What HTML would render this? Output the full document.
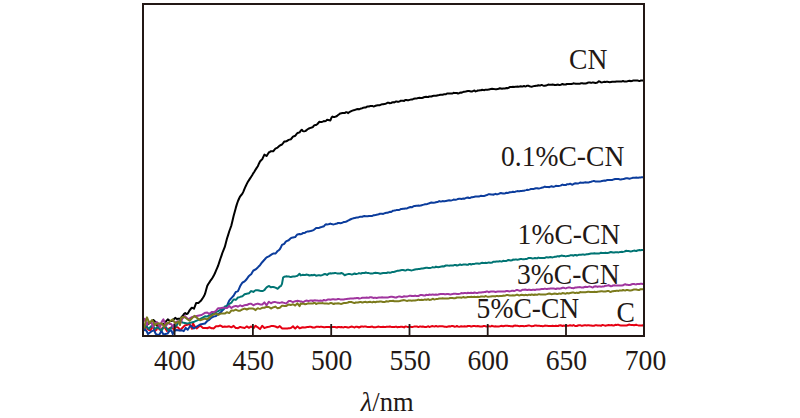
<!DOCTYPE html>
<html><head><meta charset="utf-8"><style>
html,body{margin:0;padding:0;background:#fff;}
svg{display:block;}
text{font-family:"Liberation Serif",serif;fill:#231815;}
</style></head><body>
<svg width="800" height="418" viewBox="0 0 800 418">
<rect width="800" height="418" fill="#fff"/>
<g fill="none" stroke-width="2" stroke-linejoin="round" stroke-linecap="round">
<path d="M143.0,327.0 L145.5,326.5 L148.0,324.0 L150.7,322.3 L153.4,320.0 L155.4,322.0 L158.0,327.0 L160.0,324.2 L162.0,324.0 L163.8,324.4 L165.5,322.0 L167.8,319.4 L170.0,321.0 L171.8,321.1 L173.5,319.4 L175.2,317.9 L176.8,319.0 L178.4,318.8 L180.0,318.8 L183.0,315.3 L184.1,313.8 L185.2,313.1 L186.3,313.9 L187.4,313.8 L188.5,312.3 L189.6,310.3 L190.7,309.0 L191.8,307.7 L192.9,308.1 L194.0,308.7 L195.1,305.8 L196.2,302.9 L197.3,302.9 L198.4,303.0 L199.5,302.0 L200.6,301.1 L201.7,299.6 L202.8,298.0 L203.9,296.3 L205.0,293.9 L206.1,290.0 L207.2,286.0 L208.3,284.0 L209.4,282.4 L210.5,280.6 L211.6,279.1 L212.7,277.5 L213.8,275.6 L214.9,273.3 L216.0,270.6 L217.1,268.1 L218.2,265.5 L219.3,262.1 L220.4,258.8 L221.5,255.6 L222.6,252.3 L223.7,249.6 L224.8,246.9 L225.9,242.7 L227.0,238.5 L228.1,235.1 L229.2,231.5 L230.3,228.5 L231.4,225.3 L232.5,220.7 L233.6,216.1 L234.7,212.1 L235.8,207.9 L236.9,204.1 L238.0,201.0 L239.1,198.5 L240.2,196.3 L241.3,195.0 L242.4,193.7 L243.5,191.3 L244.6,188.7 L245.7,186.2 L246.8,183.9 L247.9,181.8 L249.0,180.1 L250.1,178.4 L251.2,176.7 L252.3,175.0 L253.4,173.1 L254.5,171.5 L255.6,169.6 L256.7,167.9 L257.8,166.3 L258.9,163.7 L260.0,161.5 L261.1,160.3 L262.2,159.3 L263.3,156.9 L264.4,154.6 L265.5,155.3 L266.6,156.0 L267.7,154.2 L268.8,152.5 L269.9,151.9 L271.0,151.2 L272.1,151.2 L273.2,151.2 L274.3,150.0 L275.4,148.6 L276.5,148.1 L277.6,147.6 L278.7,146.6 L279.8,145.6 L280.9,145.0 L282.0,144.5 L283.1,143.1 L284.2,141.6 L285.3,141.5 L286.4,141.3 L287.5,140.6 L288.6,139.9 L289.7,139.6 L290.8,139.3 L291.9,138.0 L293.0,136.7 L294.1,136.2 L295.2,135.8 L296.3,134.4 L297.4,133.0 L298.5,132.7 L299.6,132.4 L300.7,130.8 L301.8,129.7 L302.9,131.1 L304.0,131.4 L305.1,131.1 L306.2,130.5 L307.3,129.5 L308.4,128.7 L309.5,128.3 L310.6,127.9 L311.7,127.5 L312.8,127.1 L313.9,125.7 L315.0,125.1 L316.1,125.0 L317.2,124.2 L318.3,123.0 L319.4,121.8 L320.5,122.1 L321.6,122.0 L322.7,121.6 L323.8,121.1 L324.9,121.2 L326.0,120.9 L327.1,119.8 L328.2,120.0 L329.3,120.2 L330.4,120.4 L331.5,117.6 L332.6,116.6 L333.7,117.1 L334.8,116.9 L335.9,116.5 L337.0,116.0 L338.1,115.1 L339.2,114.2 L340.3,113.4 L341.4,113.2 L342.5,113.0 L343.6,113.0 L344.7,113.1 L345.8,112.3 L346.9,112.2 L348.0,113.1 L349.1,112.3 L350.2,111.7 L351.3,111.1 L352.4,110.6 L353.5,110.3 L354.6,110.0 L355.7,109.6 L356.8,109.2 L357.9,109.0 L359.0,109.4 L360.1,108.9 L361.2,108.4 L362.3,108.2 L363.4,107.7 L364.5,107.5 L365.6,107.6 L366.7,106.8 L367.8,106.5 L368.9,106.6 L370.0,106.1 L371.1,105.9 L372.2,105.9 L373.3,106.4 L374.4,106.2 L375.5,105.8 L376.6,105.5 L377.7,105.3 L378.8,105.2 L379.9,105.2 L381.0,104.6 L382.1,104.3 L383.2,104.3 L384.3,104.1 L385.4,103.8 L386.5,103.3 L387.6,102.7 L388.7,102.8 L389.8,103.2 L390.9,103.1 L392.0,102.5 L393.1,102.1 L394.2,102.5 L395.3,101.8 L396.4,101.4 L397.5,101.8 L398.6,101.7 L399.7,101.4 L400.8,100.7 L401.9,100.7 L403.0,100.8 L404.1,100.9 L405.2,100.1 L406.3,100.0 L407.4,100.3 L408.5,100.2 L409.6,99.9 L410.7,99.6 L411.8,99.6 L412.9,99.2 L414.0,98.7 L415.1,98.5 L416.2,98.4 L417.3,98.2 L418.4,97.9 L419.5,97.8 L420.6,97.9 L421.7,98.1 L422.8,97.7 L423.9,97.3 L425.0,96.9 L426.1,96.7 L427.2,96.9 L428.3,97.0 L429.4,96.4 L430.5,96.5 L431.6,96.5 L432.7,95.9 L433.8,95.7 L434.9,95.7 L436.0,95.8 L437.1,95.5 L438.2,95.2 L439.3,95.0 L440.4,94.7 L441.5,94.7 L442.6,94.8 L443.7,94.3 L444.8,94.3 L445.9,94.3 L447.0,93.5 L448.1,93.5 L449.2,93.5 L450.3,93.5 L451.4,93.6 L452.5,93.5 L453.6,92.8 L454.7,93.1 L455.8,93.1 L456.9,93.0 L458.0,93.5 L459.1,93.2 L460.2,92.5 L461.3,92.7 L462.4,92.3 L463.5,91.8 L464.6,91.7 L465.7,91.5 L466.8,91.2 L467.9,91.0 L469.0,91.0 L470.1,91.2 L471.2,91.6 L472.3,91.4 L473.4,90.9 L474.5,90.4 L475.6,91.4 L476.7,91.1 L477.8,90.4 L478.9,90.4 L480.0,90.3 L481.1,90.2 L482.2,89.8 L483.3,90.1 L484.4,90.2 L485.5,89.7 L486.6,89.7 L487.7,89.7 L488.8,89.6 L489.9,89.2 L491.0,88.9 L492.1,88.7 L493.2,88.9 L494.3,89.1 L495.4,89.2 L496.5,89.2 L497.6,89.1 L498.7,88.8 L499.8,88.2 L500.9,88.5 L502.0,88.8 L503.1,88.6 L504.2,88.6 L505.3,88.4 L506.4,88.0 L507.5,88.2 L508.6,87.8 L509.7,87.1 L510.8,87.0 L511.9,86.9 L513.0,86.8 L514.1,86.9 L515.2,86.8 L516.3,86.7 L517.4,86.6 L518.5,86.7 L519.6,86.6 L520.7,86.2 L521.8,86.4 L522.9,86.4 L524.0,86.0 L525.1,86.4 L526.2,86.2 L527.3,85.7 L528.4,85.8 L529.5,86.2 L530.6,86.5 L531.7,86.7 L532.8,86.4 L533.9,86.1 L535.0,86.0 L536.1,85.8 L537.2,85.7 L538.3,85.3 L539.4,85.5 L540.5,85.4 L541.6,84.9 L542.7,85.4 L543.8,85.7 L544.9,85.7 L546.0,85.6 L547.1,85.1 L548.2,84.6 L549.3,84.8 L550.4,84.8 L551.5,84.7 L552.6,84.5 L553.7,84.7 L554.8,85.0 L555.9,85.0 L557.0,84.7 L558.1,84.6 L559.2,85.0 L560.3,84.9 L561.4,84.5 L562.5,84.0 L563.6,84.5 L564.7,84.6 L565.8,84.5 L566.9,84.0 L568.0,84.0 L569.1,84.1 L570.2,84.1 L571.3,84.0 L572.4,83.8 L573.5,83.3 L574.6,83.6 L575.7,83.8 L576.8,83.7 L577.9,83.8 L579.0,83.8 L580.1,83.7 L581.2,83.2 L582.3,83.2 L583.4,83.4 L584.5,83.5 L585.6,83.5 L586.7,83.3 L587.8,82.7 L588.9,82.4 L590.0,82.5 L591.1,82.9 L592.2,82.6 L593.3,82.5 L594.4,82.7 L595.5,82.9 L596.6,82.8 L597.7,82.3 L598.8,81.3 L599.9,81.6 L601.0,82.3 L602.1,82.4 L603.2,82.1 L604.3,81.8 L605.4,82.0 L606.5,81.8 L607.6,81.8 L608.7,82.1 L609.8,82.2 L610.9,82.1 L612.0,81.7 L613.1,81.7 L614.2,81.7 L615.3,81.8 L616.4,81.5 L617.5,81.4 L618.6,81.4 L619.7,81.4 L620.8,81.4 L621.9,81.4 L623.0,81.0 L624.1,81.4 L625.2,81.6 L626.3,81.4 L627.4,81.2 L628.5,80.9 L629.6,80.7 L630.7,81.2 L631.8,81.1 L632.9,80.6 L634.0,80.6 L635.1,80.6 L636.2,80.5 L637.3,80.4 L638.4,80.8 L639.5,81.1 L640.6,80.6 L641.7,80.5 L642.8,80.6 L643.9,80.9" stroke="#000000" />
<path d="M143.0,329.0 L144.5,328.9 L146.0,326.0 L147.5,328.9 L149.0,330.0 L150.5,330.3 L152.0,327.0 L153.5,328.0 L155.0,331.0 L156.5,329.8 L158.0,326.0 L159.5,329.6 L161.0,330.0 L162.5,327.9 L164.0,327.0 L165.5,328.6 L167.0,331.0 L168.5,328.8 L170.0,328.0 L172.0,326.8 L174.0,330.0 L175.5,327.3 L177.0,327.0 L178.5,327.9 L180.0,330.3 L184.8,325.5 L189.6,324.1 L192.0,328.8 L192.9,323.1 L194.4,326.0 L196.7,328.4 L200.1,325.5 L203.0,327.9 L205.0,327.9 L206.1,327.9 L207.2,328.2 L208.3,327.8 L209.4,327.2 L210.5,327.8 L211.6,328.2 L212.7,328.3 L213.8,328.4 L214.9,327.3 L216.0,326.2 L217.1,326.2 L218.2,326.3 L219.3,325.8 L220.4,325.5 L221.5,326.2 L222.6,326.9 L223.7,326.7 L224.8,326.5 L225.9,326.7 L227.0,326.8 L228.1,326.5 L229.2,326.3 L230.3,326.8 L231.4,327.3 L232.5,326.6 L233.6,325.9 L234.7,327.0 L235.8,328.0 L236.9,328.1 L238.0,328.2 L239.1,327.5 L240.2,326.9 L241.3,327.3 L242.4,327.6 L243.5,327.8 L244.6,328.0 L245.7,327.2 L246.8,326.4 L247.9,327.1 L249.0,327.8 L250.1,327.1 L251.2,326.4 L252.3,327.3 L253.4,328.2 L254.5,327.0 L255.6,325.8 L256.7,326.6 L257.8,327.3 L258.9,328.2 L260.0,329.1 L261.1,327.5 L262.2,325.8 L263.3,326.9 L264.4,328.0 L265.5,327.6 L266.6,327.2 L267.7,327.0 L268.8,326.8 L269.9,326.5 L271.0,326.1 L272.1,326.1 L273.2,326.0 L274.3,326.2 L275.4,326.5 L276.5,327.0 L277.6,327.6 L278.7,326.8 L279.8,326.1 L280.9,327.2 L282.0,328.4 L283.1,328.5 L284.2,328.5 L285.3,328.6 L286.4,328.6 L287.5,328.5 L288.6,328.3 L289.7,328.2 L290.8,328.1 L291.9,327.2 L293.0,326.3 L294.1,327.5 L295.2,328.6 L296.3,327.5 L297.4,326.4 L298.5,327.3 L299.6,328.3 L300.7,328.0 L301.8,327.4 L302.9,327.3 L304.0,327.4 L305.1,327.5 L306.2,327.3 L307.3,327.1 L308.4,327.0 L309.5,326.8 L310.6,326.8 L311.7,327.0 L312.8,327.6 L313.9,327.6 L315.0,327.4 L316.1,326.8 L317.2,326.7 L318.3,326.8 L319.4,326.9 L320.5,326.8 L321.6,326.8 L322.7,326.9 L323.8,327.2 L324.9,327.2 L326.0,327.1 L327.1,327.1 L328.2,326.9 L329.3,327.0 L330.4,327.4 L331.5,327.1 L332.6,327.0 L333.7,327.1 L334.8,327.1 L335.9,327.3 L337.0,327.5 L338.1,327.0 L339.2,327.1 L340.3,327.3 L341.4,327.0 L342.5,327.3 L343.6,327.4 L344.7,327.0 L345.8,327.1 L346.9,327.2 L348.0,327.5 L349.1,327.4 L350.2,327.0 L351.3,326.6 L352.4,326.7 L353.5,327.1 L354.6,327.5 L355.7,326.7 L356.8,326.7 L357.9,327.0 L359.0,327.5 L360.1,327.0 L361.2,326.5 L362.3,326.6 L363.4,326.7 L364.5,326.6 L365.6,326.5 L366.7,326.8 L367.8,327.0 L368.9,327.1 L370.0,326.9 L371.1,326.7 L372.2,326.6 L373.3,327.2 L374.4,327.3 L375.5,327.2 L376.6,327.0 L377.7,326.7 L378.8,326.6 L379.9,326.9 L381.0,327.0 L382.1,327.0 L383.2,326.8 L384.3,327.1 L385.4,327.1 L386.5,326.8 L387.6,326.8 L388.7,326.7 L389.8,326.5 L390.9,326.8 L392.0,327.0 L393.1,327.1 L394.2,327.1 L395.3,326.8 L396.4,326.7 L397.5,327.3 L398.6,327.1 L399.7,326.9 L400.8,326.7 L401.9,326.7 L403.0,327.0 L404.1,327.4 L405.2,326.6 L406.3,326.6 L407.4,326.9 L408.5,326.9 L409.6,326.8 L410.7,326.8 L411.8,327.1 L412.9,326.9 L414.0,326.6 L415.1,326.6 L416.2,326.5 L417.3,326.6 L418.4,327.1 L419.5,326.6 L420.6,326.6 L421.7,326.8 L422.8,326.6 L423.9,326.8 L425.0,327.1 L426.1,327.1 L427.2,326.6 L428.3,326.3 L429.4,327.0 L430.5,326.6 L431.6,326.2 L432.7,326.1 L433.8,326.4 L434.9,326.4 L436.0,326.0 L437.1,326.4 L438.2,326.4 L439.3,326.2 L440.4,326.3 L441.5,326.3 L442.6,326.3 L443.7,326.5 L444.8,326.7 L445.9,326.8 L447.0,326.9 L448.1,326.5 L449.2,326.3 L450.3,326.5 L451.4,326.1 L452.5,326.0 L453.6,326.3 L454.7,326.7 L455.8,326.6 L456.9,326.0 L458.0,326.6 L459.1,326.7 L460.2,326.5 L461.3,326.2 L462.4,326.4 L463.5,326.5 L464.6,326.2 L465.7,326.5 L466.8,326.5 L467.9,325.9 L469.0,325.9 L470.1,326.1 L471.2,326.6 L472.3,326.3 L473.4,326.1 L474.5,325.9 L475.6,326.2 L476.7,326.2 L477.8,326.1 L478.9,326.2 L480.0,326.4 L481.1,326.5 L482.2,326.6 L483.3,326.1 L484.4,325.9 L485.5,326.3 L486.6,326.6 L487.7,326.5 L488.8,326.1 L489.9,326.4 L491.0,326.2 L492.1,325.8 L493.2,326.3 L494.3,326.4 L495.4,326.3 L496.5,326.5 L497.6,326.5 L498.7,326.4 L499.8,326.2 L500.9,325.9 L502.0,325.8 L503.1,326.3 L504.2,326.0 L505.3,325.8 L506.4,325.8 L507.5,325.8 L508.6,326.0 L509.7,326.1 L510.8,326.2 L511.9,326.3 L513.0,326.4 L514.1,325.7 L515.2,325.6 L516.3,325.7 L517.4,325.8 L518.5,326.1 L519.6,326.2 L520.7,326.0 L521.8,326.0 L522.9,326.0 L524.0,326.2 L525.1,326.1 L526.2,325.9 L527.3,325.7 L528.4,325.5 L529.5,325.6 L530.6,325.9 L531.7,326.2 L532.8,326.1 L533.9,325.9 L535.0,325.4 L536.1,325.6 L537.2,325.8 L538.3,325.7 L539.4,325.8 L540.5,325.9 L541.6,325.9 L542.7,326.2 L543.8,326.0 L544.9,325.6 L546.0,325.7 L547.1,325.8 L548.2,325.9 L549.3,326.1 L550.4,326.1 L551.5,325.9 L552.6,325.7 L553.7,325.9 L554.8,326.0 L555.9,325.7 L557.0,326.0 L558.1,326.0 L559.2,325.4 L560.3,325.3 L561.4,325.5 L562.5,326.0 L563.6,325.6 L564.7,325.7 L565.8,326.0 L566.9,325.8 L568.0,325.7 L569.1,325.5 L570.2,325.2 L571.3,325.6 L572.4,325.7 L573.5,325.1 L574.6,325.7 L575.7,326.0 L576.8,326.0 L577.9,325.5 L579.0,325.2 L580.1,325.2 L581.2,325.7 L582.3,325.7 L583.4,325.4 L584.5,325.2 L585.6,325.3 L586.7,325.4 L587.8,325.2 L588.9,325.3 L590.0,325.4 L591.1,325.6 L592.2,325.8 L593.3,325.8 L594.4,325.7 L595.5,325.2 L596.6,325.2 L597.7,325.4 L598.8,325.4 L599.9,325.6 L601.0,325.8 L602.1,325.1 L603.2,325.1 L604.3,325.4 L605.4,325.7 L606.5,325.4 L607.6,325.2 L608.7,325.0 L609.8,325.2 L610.9,325.3 L612.0,325.1 L613.1,325.5 L614.2,325.4 L615.3,324.8 L616.4,324.9 L617.5,324.8 L618.6,324.8 L619.7,325.3 L620.8,325.4 L621.9,325.4 L623.0,325.6 L624.1,325.6 L625.2,325.6 L626.3,325.6 L627.4,325.2 L628.5,324.8 L629.6,324.6 L630.7,324.9 L631.8,325.0 L632.9,325.1 L634.0,325.3 L635.1,325.0 L636.2,324.7 L637.3,325.1 L638.4,325.4 L639.5,325.5 L640.6,325.5 L641.7,325.4 L642.8,325.3 L643.9,325.4" stroke="#e60012" />
<path d="M143.0,331.0 L145.3,329.4 L146.7,331.3 L148.0,334.0 L151.0,331.7 L154.0,330.0 L155.7,333.8 L157.4,334.8 L159.4,334.6 L161.4,330.8 L163.4,334.5 L165.5,334.0 L167.5,333.6 L169.5,330.8 L171.2,330.2 L172.8,334.0 L174.8,330.5 L176.8,330.0 L179.4,330.5 L181.9,330.3 L183.8,331.1 L185.7,327.9 L187.7,329.8 L190.5,325.5 L193.9,328.4 L200.1,324.5 L205.0,323.5 L206.1,322.3 L207.2,321.0 L208.3,320.3 L209.4,319.6 L210.5,318.5 L211.6,317.5 L212.7,317.0 L213.8,316.4 L214.9,316.3 L216.0,316.1 L217.1,315.1 L218.2,314.1 L219.3,313.4 L220.4,312.7 L221.5,311.5 L222.6,310.2 L223.7,309.2 L224.8,308.1 L225.9,307.0 L227.0,305.8 L228.1,303.1 L229.2,300.6 L230.3,299.3 L231.4,298.1 L232.5,296.9 L233.6,295.7 L234.7,293.8 L235.8,291.9 L236.9,291.6 L238.0,291.1 L239.1,288.6 L240.2,286.1 L241.3,284.2 L242.4,282.6 L243.5,282.0 L244.6,281.4 L245.7,280.2 L246.8,279.0 L247.9,277.4 L249.0,275.9 L250.1,275.0 L251.2,274.2 L252.3,272.3 L253.4,270.5 L254.5,270.0 L255.6,269.4 L256.7,268.4 L257.8,267.4 L258.9,266.3 L260.0,265.2 L261.1,263.7 L262.2,262.2 L263.3,261.0 L264.4,259.8 L265.5,258.5 L266.6,257.4 L267.7,256.8 L268.8,256.3 L269.9,255.6 L271.0,254.9 L272.1,254.2 L273.2,253.6 L274.3,253.6 L275.4,253.6 L276.5,252.3 L277.6,251.0 L278.7,250.3 L279.8,249.3 L280.9,247.2 L282.0,244.9 L283.1,244.3 L284.2,243.8 L285.3,242.3 L286.4,241.1 L287.5,240.7 L288.6,240.3 L289.7,239.2 L290.8,238.1 L291.9,237.7 L293.0,237.4 L294.1,237.2 L295.2,237.1 L296.3,235.7 L297.4,234.4 L298.5,234.2 L299.6,234.0 L300.7,234.2 L301.8,233.9 L302.9,233.1 L304.0,232.9 L305.1,232.7 L306.2,231.9 L307.3,231.6 L308.4,231.4 L309.5,231.2 L310.6,231.0 L311.7,230.7 L312.8,230.4 L313.9,229.8 L315.0,228.9 L316.1,228.0 L317.2,228.1 L318.3,228.0 L319.4,227.7 L320.5,227.3 L321.6,227.0 L322.7,226.6 L323.8,226.4 L324.9,225.1 L326.0,224.2 L327.1,224.4 L328.2,224.3 L329.3,224.0 L330.4,223.6 L331.5,224.1 L332.6,224.3 L333.7,224.4 L334.8,224.1 L335.9,223.8 L337.0,223.5 L338.1,223.0 L339.2,223.1 L340.3,223.3 L341.4,223.1 L342.5,222.6 L343.6,222.1 L344.7,221.9 L345.8,221.7 L346.9,221.3 L348.0,220.7 L349.1,220.1 L350.2,219.5 L351.3,219.0 L352.4,218.6 L353.5,218.3 L354.6,218.1 L355.7,217.7 L356.8,217.6 L357.9,217.5 L359.0,217.1 L360.1,216.8 L361.2,216.7 L362.3,216.7 L363.4,216.3 L364.5,216.1 L365.6,216.3 L366.7,216.3 L367.8,216.2 L368.9,216.0 L370.0,216.0 L371.1,216.1 L372.2,216.0 L373.3,215.3 L374.4,215.2 L375.5,215.1 L376.6,214.8 L377.7,214.6 L378.8,214.3 L379.9,213.7 L381.0,213.7 L382.1,213.7 L383.2,213.9 L384.3,213.4 L385.4,213.0 L386.5,212.7 L387.6,212.7 L388.7,212.3 L389.8,211.8 L390.9,212.0 L392.0,211.4 L393.1,210.7 L394.2,210.6 L395.3,210.4 L396.4,210.1 L397.5,209.9 L398.6,210.1 L399.7,209.8 L400.8,208.9 L401.9,208.9 L403.0,208.8 L404.1,208.8 L405.2,208.6 L406.3,208.5 L407.4,208.2 L408.5,207.7 L409.6,207.3 L410.7,207.1 L411.8,207.3 L412.9,206.7 L414.0,206.1 L415.1,205.9 L416.2,205.7 L417.3,205.7 L418.4,205.6 L419.5,205.7 L420.6,205.6 L421.7,205.2 L422.8,204.9 L423.9,204.6 L425.0,204.3 L426.1,204.2 L427.2,204.0 L428.3,203.6 L429.4,203.2 L430.5,202.8 L431.6,202.6 L432.7,202.8 L433.8,202.7 L434.9,202.5 L436.0,202.2 L437.1,202.1 L438.2,201.7 L439.3,201.1 L440.4,201.6 L441.5,201.4 L442.6,201.1 L443.7,201.3 L444.8,201.2 L445.9,200.9 L447.0,200.7 L448.1,200.5 L449.2,200.3 L450.3,200.4 L451.4,200.4 L452.5,200.1 L453.6,199.6 L454.7,199.8 L455.8,199.7 L456.9,199.4 L458.0,199.0 L459.1,198.8 L460.2,198.8 L461.3,198.9 L462.4,198.7 L463.5,198.5 L464.6,198.7 L465.7,198.2 L466.8,197.7 L467.9,197.5 L469.0,198.0 L470.1,198.0 L471.2,197.3 L472.3,197.3 L473.4,197.1 L474.5,196.7 L475.6,196.5 L476.7,196.4 L477.8,196.5 L478.9,196.6 L480.0,196.1 L481.1,195.7 L482.2,196.1 L483.3,196.1 L484.4,195.9 L485.5,195.5 L486.6,195.1 L487.7,194.7 L488.8,194.2 L489.9,194.3 L491.0,194.4 L492.1,194.4 L493.2,194.7 L494.3,194.3 L495.4,193.8 L496.5,194.3 L497.6,194.2 L498.7,193.9 L499.8,193.3 L500.9,193.1 L502.0,193.2 L503.1,193.6 L504.2,193.5 L505.3,193.2 L506.4,192.8 L507.5,193.0 L508.6,192.8 L509.7,192.2 L510.8,192.2 L511.9,192.0 L513.0,191.7 L514.1,191.9 L515.2,191.7 L516.3,191.4 L517.4,191.1 L518.5,191.2 L519.6,191.3 L520.7,190.9 L521.8,190.9 L522.9,190.8 L524.0,190.7 L525.1,190.4 L526.2,190.1 L527.3,189.7 L528.4,189.9 L529.5,189.6 L530.6,189.1 L531.7,189.0 L532.8,189.0 L533.9,188.9 L535.0,188.5 L536.1,188.2 L537.2,188.2 L538.3,188.5 L539.4,188.4 L540.5,188.1 L541.6,187.7 L542.7,187.6 L543.8,187.1 L544.9,186.6 L546.0,187.0 L547.1,187.1 L548.2,187.0 L549.3,187.2 L550.4,186.6 L551.5,186.2 L552.6,186.7 L553.7,186.7 L554.8,186.4 L555.9,185.8 L557.0,185.9 L558.1,186.0 L559.2,185.9 L560.3,185.6 L561.4,185.2 L562.5,184.6 L563.6,185.0 L564.7,185.1 L565.8,185.1 L566.9,184.3 L568.0,184.2 L569.1,184.2 L570.2,183.7 L571.3,184.3 L572.4,184.7 L573.5,184.1 L574.6,183.4 L575.7,183.2 L576.8,183.6 L577.9,183.5 L579.0,183.1 L580.1,182.6 L581.2,182.8 L582.3,182.8 L583.4,182.8 L584.5,182.4 L585.6,182.3 L586.7,182.4 L587.8,182.6 L588.9,182.4 L590.0,182.0 L591.1,181.8 L592.2,181.4 L593.3,181.1 L594.4,181.1 L595.5,181.5 L596.6,181.6 L597.7,181.4 L598.8,181.4 L599.9,181.4 L601.0,181.3 L602.1,180.9 L603.2,180.7 L604.3,180.6 L605.4,180.7 L606.5,180.3 L607.6,180.1 L608.7,180.1 L609.8,180.0 L610.9,180.0 L612.0,180.0 L613.1,179.6 L614.2,179.3 L615.3,179.0 L616.4,179.0 L617.5,178.9 L618.6,179.0 L619.7,179.4 L620.8,179.4 L621.9,179.2 L623.0,179.1 L624.1,178.9 L625.2,178.5 L626.3,178.2 L627.4,178.3 L628.5,178.5 L629.6,178.7 L630.7,178.4 L631.8,178.1 L632.9,177.8 L634.0,177.8 L635.1,177.7 L636.2,177.6 L637.3,177.8 L638.4,177.8 L639.5,177.6 L640.6,177.4 L641.7,177.3 L642.8,177.3 L643.9,177.6" stroke="#0b3c9c" />
<path d="M143.0,330.0 L144.5,327.2 L146.0,326.0 L147.5,327.3 L149.0,329.0 L150.5,326.7 L152.0,326.0 L153.5,326.8 L155.0,329.0 L156.5,327.9 L158.0,327.0 L160.0,329.3 L162.0,330.0 L164.0,326.5 L166.0,327.0 L168.0,330.2 L170.0,329.0 L172.0,327.2 L174.0,326.0 L176.0,326.4 L178.0,323.0 L180.2,320.6 L182.4,322.6 L187.2,323.6 L194.4,321.7 L199.1,319.7 L205.0,316.3 L206.1,316.4 L207.2,316.5 L208.3,315.8 L209.4,315.2 L210.5,314.7 L211.6,314.3 L212.7,313.7 L213.8,313.1 L214.9,312.7 L216.0,312.2 L217.1,311.7 L218.2,311.2 L219.3,310.5 L220.4,309.7 L221.5,309.6 L222.6,309.4 L223.7,308.0 L224.8,306.5 L225.9,306.3 L227.0,306.1 L228.1,305.0 L229.2,303.9 L230.3,303.3 L231.4,302.7 L232.5,301.0 L233.6,299.5 L234.7,299.6 L235.8,299.9 L236.9,298.7 L238.0,297.4 L239.1,297.2 L240.2,296.9 L241.3,296.5 L242.4,296.2 L243.5,295.3 L244.6,294.3 L245.7,294.0 L246.8,293.7 L247.9,293.4 L249.0,293.2 L250.1,292.1 L251.2,291.1 L252.3,291.5 L253.4,291.9 L254.5,291.0 L255.6,290.2 L256.7,290.2 L257.8,290.2 L258.9,290.5 L260.0,290.8 L261.1,291.0 L262.2,291.1 L263.3,290.7 L264.4,290.2 L265.5,288.7 L266.6,287.4 L267.7,286.7 L268.8,286.0 L269.9,286.6 L271.0,287.3 L272.1,287.1 L273.2,287.1 L274.3,287.3 L275.4,287.6 L276.5,288.2 L277.6,288.8 L278.7,287.7 L279.8,286.5 L280.9,286.1 L282.0,283.9 L283.1,277.6 L284.2,276.8 L285.3,276.6 L286.4,276.3 L287.5,276.4 L288.6,276.4 L289.7,276.7 L290.8,276.9 L291.9,276.7 L293.0,276.6 L294.1,276.5 L295.2,276.4 L296.3,276.1 L297.4,275.8 L298.5,274.8 L299.6,273.7 L300.7,275.4 L301.8,275.1 L302.9,274.8 L304.0,274.9 L305.1,275.0 L306.2,274.6 L307.3,274.7 L308.4,275.0 L309.5,275.6 L310.6,275.2 L311.7,275.0 L312.8,275.3 L313.9,274.8 L315.0,275.0 L316.1,275.8 L317.2,275.4 L318.3,275.3 L319.4,275.3 L320.5,275.5 L321.6,275.3 L322.7,274.9 L323.8,274.3 L324.9,274.1 L326.0,274.3 L327.1,275.0 L328.2,274.0 L329.3,273.4 L330.4,273.2 L331.5,273.4 L332.6,273.3 L333.7,273.2 L334.8,273.0 L335.9,273.1 L337.0,273.4 L338.1,273.5 L339.2,273.6 L340.3,273.5 L341.4,273.0 L342.5,273.4 L343.6,274.2 L344.7,275.2 L345.8,274.8 L346.9,274.4 L348.0,274.1 L349.1,274.0 L350.2,274.1 L351.3,274.4 L352.4,274.4 L353.5,274.0 L354.6,273.5 L355.7,274.0 L356.8,273.9 L357.9,273.6 L359.0,273.1 L360.1,273.4 L361.2,273.5 L362.3,272.9 L363.4,273.1 L364.5,273.1 L365.6,272.5 L366.7,272.8 L367.8,273.0 L368.9,273.1 L370.0,273.4 L371.1,273.5 L372.2,273.4 L373.3,273.2 L374.4,272.9 L375.5,272.7 L376.6,273.0 L377.7,273.1 L378.8,273.2 L379.9,273.7 L381.0,273.5 L382.1,273.3 L383.2,273.1 L384.3,273.0 L385.4,273.0 L386.5,273.1 L387.6,272.5 L388.7,272.5 L389.8,272.8 L390.9,272.5 L392.0,272.1 L393.1,271.9 L394.2,271.9 L395.3,271.5 L396.4,271.1 L397.5,270.7 L398.6,270.8 L399.7,270.6 L400.8,270.2 L401.9,270.1 L403.0,270.1 L404.1,270.3 L405.2,270.5 L406.3,270.2 L407.4,269.7 L408.5,269.8 L409.6,270.1 L410.7,270.3 L411.8,270.4 L412.9,270.1 L414.0,269.8 L415.1,269.5 L416.2,269.3 L417.3,269.2 L418.4,269.1 L419.5,269.0 L420.6,268.8 L421.7,268.6 L422.8,268.4 L423.9,268.2 L425.0,268.0 L426.1,267.8 L427.2,267.8 L428.3,267.9 L429.4,268.1 L430.5,267.9 L431.6,267.6 L432.7,267.1 L433.8,267.4 L434.9,267.3 L436.0,266.6 L437.1,267.1 L438.2,267.2 L439.3,266.9 L440.4,266.7 L441.5,266.5 L442.6,266.3 L443.7,266.5 L444.8,266.0 L445.9,265.5 L447.0,265.4 L448.1,265.6 L449.2,265.7 L450.3,265.4 L451.4,265.4 L452.5,265.4 L453.6,265.4 L454.7,264.9 L455.8,265.0 L456.9,265.6 L458.0,265.3 L459.1,264.8 L460.2,264.5 L461.3,264.9 L462.4,264.8 L463.5,264.6 L464.6,264.4 L465.7,264.5 L466.8,264.7 L467.9,264.8 L469.0,264.1 L470.1,264.0 L471.2,264.5 L472.3,264.1 L473.4,263.9 L474.5,263.9 L475.6,263.6 L476.7,263.4 L477.8,263.4 L478.9,263.7 L480.0,263.5 L481.1,263.1 L482.2,262.7 L483.3,262.9 L484.4,263.1 L485.5,262.8 L486.6,262.9 L487.7,262.8 L488.8,262.4 L489.9,262.7 L491.0,262.7 L492.1,262.6 L493.2,261.8 L494.3,261.7 L495.4,261.8 L496.5,261.4 L497.6,261.5 L498.7,261.5 L499.8,261.1 L500.9,261.4 L502.0,261.5 L503.1,260.8 L504.2,261.0 L505.3,261.1 L506.4,261.0 L507.5,260.3 L508.6,260.0 L509.7,260.2 L510.8,260.6 L511.9,260.3 L513.0,259.6 L514.1,259.7 L515.2,259.6 L516.3,259.6 L517.4,259.7 L518.5,259.5 L519.6,259.2 L520.7,258.9 L521.8,259.1 L522.9,259.2 L524.0,259.2 L525.1,259.1 L526.2,258.9 L527.3,258.7 L528.4,258.1 L529.5,257.9 L530.6,258.0 L531.7,258.3 L532.8,258.4 L533.9,258.3 L535.0,258.1 L536.1,258.3 L537.2,258.3 L538.3,257.6 L539.4,257.9 L540.5,258.1 L541.6,257.9 L542.7,258.0 L543.8,258.0 L544.9,257.9 L546.0,257.3 L547.1,257.3 L548.2,257.6 L549.3,257.2 L550.4,257.1 L551.5,257.2 L552.6,257.4 L553.7,257.1 L554.8,256.8 L555.9,256.8 L557.0,256.3 L558.1,256.2 L559.2,256.5 L560.3,255.9 L561.4,255.6 L562.5,255.7 L563.6,255.9 L564.7,256.1 L565.8,256.4 L566.9,256.1 L568.0,255.9 L569.1,255.8 L570.2,255.3 L571.3,255.2 L572.4,255.3 L573.5,255.7 L574.6,255.1 L575.7,255.0 L576.8,255.6 L577.9,255.1 L579.0,254.8 L580.1,254.7 L581.2,254.7 L582.3,254.6 L583.4,254.5 L584.5,254.7 L585.6,254.5 L586.7,254.2 L587.8,254.3 L588.9,254.0 L590.0,253.7 L591.1,253.5 L592.2,253.6 L593.3,253.5 L594.4,253.2 L595.5,253.4 L596.6,253.4 L597.7,253.4 L598.8,253.5 L599.9,253.2 L601.0,252.7 L602.1,252.9 L603.2,253.1 L604.3,253.1 L605.4,252.7 L606.5,252.9 L607.6,253.0 L608.7,252.8 L609.8,252.3 L610.9,252.0 L612.0,252.2 L613.1,252.4 L614.2,252.4 L615.3,252.2 L616.4,252.2 L617.5,252.3 L618.6,252.4 L619.7,252.1 L620.8,251.9 L621.9,251.8 L623.0,251.9 L624.1,251.6 L625.2,251.2 L626.3,250.8 L627.4,250.9 L628.5,251.0 L629.6,251.2 L630.7,251.4 L631.8,251.3 L632.9,250.9 L634.0,250.6 L635.1,250.8 L636.2,251.1 L637.3,250.5 L638.4,250.2 L639.5,250.1 L640.6,250.3 L641.7,250.1 L642.8,249.9 L643.9,249.6" stroke="#007473" />
<path d="M143.0,322.0 L144.7,318.7 L147.0,325.0 L148.5,321.6 L150.0,322.0 L151.5,322.4 L153.0,327.0 L154.8,323.4 L156.7,322.0 L158.3,323.5 L160.0,327.0 L161.7,321.9 L163.4,319.4 L166.0,326.0 L167.8,323.0 L169.5,324.0 L171.2,324.0 L173.0,327.0 L174.5,323.8 L176.0,322.0 L178.0,321.2 L180.0,324.0 L182.4,318.7 L184.8,316.0 L188.1,319.3 L191.5,317.3 L196.7,316.0 L201.5,315.0 L205.0,312.8 L206.1,312.7 L207.2,312.5 L208.3,313.3 L209.4,314.1 L210.5,313.1 L211.6,312.0 L212.7,312.1 L213.8,312.2 L214.9,311.5 L216.0,310.8 L217.1,309.5 L218.2,308.2 L219.3,308.2 L220.4,308.3 L221.5,308.0 L222.6,307.7 L223.7,307.7 L224.8,307.7 L225.9,307.9 L227.0,308.1 L228.1,307.0 L229.2,305.9 L230.3,307.0 L231.4,308.0 L232.5,307.2 L233.6,306.5 L234.7,306.2 L235.8,305.9 L236.9,306.3 L238.0,306.7 L239.1,306.0 L240.2,305.3 L241.3,305.8 L242.4,306.3 L243.5,305.7 L244.6,305.2 L245.7,305.1 L246.8,305.0 L247.9,304.5 L249.0,303.9 L250.1,303.8 L251.2,303.7 L252.3,304.5 L253.4,305.3 L254.5,304.7 L255.6,304.2 L256.7,303.9 L257.8,303.6 L258.9,304.0 L260.0,304.4 L261.1,304.5 L262.2,304.6 L263.3,303.5 L264.4,302.4 L265.5,303.8 L266.6,305.3 L267.7,303.5 L268.8,301.7 L269.9,302.5 L271.0,303.3 L272.1,302.7 L273.2,302.2 L274.3,302.1 L275.4,302.1 L276.5,302.4 L277.6,302.7 L278.7,302.8 L279.8,302.9 L280.9,302.6 L282.0,302.3 L283.1,302.6 L284.2,302.9 L285.3,303.2 L286.4,303.4 L287.5,302.3 L288.6,301.1 L289.7,301.1 L290.8,301.1 L291.9,301.6 L293.0,302.0 L294.1,301.6 L295.2,301.3 L296.3,301.1 L297.4,300.8 L298.5,301.0 L299.6,301.2 L300.7,301.4 L301.8,301.6 L302.9,302.1 L304.0,301.7 L305.1,301.0 L306.2,300.6 L307.3,300.8 L308.4,301.0 L309.5,300.8 L310.6,300.4 L311.7,300.4 L312.8,301.0 L313.9,300.4 L315.0,300.3 L316.1,300.6 L317.2,300.6 L318.3,300.7 L319.4,300.8 L320.5,300.6 L321.6,300.7 L322.7,300.7 L323.8,299.9 L324.9,300.3 L326.0,300.4 L327.1,299.8 L328.2,299.6 L329.3,299.5 L330.4,299.8 L331.5,299.4 L332.6,299.2 L333.7,299.3 L334.8,299.5 L335.9,299.5 L337.0,299.3 L338.1,299.0 L339.2,299.1 L340.3,299.4 L341.4,299.6 L342.5,299.6 L343.6,299.4 L344.7,299.2 L345.8,299.1 L346.9,298.9 L348.0,298.8 L349.1,298.8 L350.2,298.6 L351.3,298.4 L352.4,298.5 L353.5,298.4 L354.6,298.2 L355.7,298.3 L356.8,298.1 L357.9,298.0 L359.0,298.5 L360.1,298.4 L361.2,298.1 L362.3,297.7 L363.4,297.8 L364.5,297.8 L365.6,297.7 L366.7,297.6 L367.8,297.7 L368.9,297.8 L370.0,297.2 L371.1,297.2 L372.2,297.5 L373.3,297.9 L374.4,297.8 L375.5,297.7 L376.6,297.9 L377.7,297.7 L378.8,297.6 L379.9,297.6 L381.0,297.4 L382.1,297.3 L383.2,297.4 L384.3,297.4 L385.4,297.5 L386.5,297.6 L387.6,297.6 L388.7,297.3 L389.8,296.9 L390.9,296.8 L392.0,296.8 L393.1,296.9 L394.2,297.2 L395.3,297.5 L396.4,297.5 L397.5,296.9 L398.6,296.6 L399.7,296.6 L400.8,296.8 L401.9,297.1 L403.0,296.8 L404.1,296.2 L405.2,296.4 L406.3,296.5 L407.4,296.4 L408.5,296.1 L409.6,295.8 L410.7,295.7 L411.8,296.0 L412.9,296.1 L414.0,296.0 L415.1,295.6 L416.2,296.0 L417.3,296.1 L418.4,296.1 L419.5,295.4 L420.6,295.0 L421.7,294.9 L422.8,295.2 L423.9,295.5 L425.0,295.6 L426.1,294.8 L427.2,294.9 L428.3,295.1 L429.4,294.5 L430.5,294.7 L431.6,294.8 L432.7,294.4 L433.8,294.7 L434.9,294.8 L436.0,294.5 L437.1,294.7 L438.2,294.5 L439.3,294.2 L440.4,294.0 L441.5,294.0 L442.6,294.0 L443.7,294.0 L444.8,294.2 L445.9,294.2 L447.0,293.9 L448.1,294.0 L449.2,294.2 L450.3,294.4 L451.4,294.3 L452.5,294.1 L453.6,293.8 L454.7,293.8 L455.8,293.8 L456.9,293.9 L458.0,294.0 L459.1,293.9 L460.2,293.6 L461.3,293.1 L462.4,293.2 L463.5,293.3 L464.6,292.9 L465.7,293.1 L466.8,293.2 L467.9,292.8 L469.0,293.0 L470.1,293.0 L471.2,292.7 L472.3,293.1 L473.4,293.0 L474.5,292.5 L475.6,292.8 L476.7,293.0 L477.8,292.9 L478.9,292.5 L480.0,292.5 L481.1,292.6 L482.2,292.3 L483.3,292.2 L484.4,292.1 L485.5,292.0 L486.6,291.4 L487.7,291.5 L488.8,292.3 L489.9,291.7 L491.0,291.5 L492.1,291.5 L493.2,291.4 L494.3,291.6 L495.4,292.0 L496.5,291.7 L497.6,291.6 L498.7,291.5 L499.8,291.5 L500.9,291.6 L502.0,291.6 L503.1,291.4 L504.2,291.6 L505.3,291.4 L506.4,290.9 L507.5,291.0 L508.6,291.2 L509.7,291.4 L510.8,291.1 L511.9,290.8 L513.0,290.8 L514.1,291.0 L515.2,290.6 L516.3,290.1 L517.4,290.0 L518.5,290.4 L519.6,290.8 L520.7,290.8 L521.8,290.2 L522.9,289.7 L524.0,289.7 L525.1,289.6 L526.2,289.8 L527.3,290.1 L528.4,289.7 L529.5,289.7 L530.6,290.0 L531.7,290.0 L532.8,289.8 L533.9,289.7 L535.0,290.0 L536.1,289.6 L537.2,289.4 L538.3,289.5 L539.4,289.4 L540.5,289.2 L541.6,289.1 L542.7,289.1 L543.8,288.9 L544.9,288.6 L546.0,288.9 L547.1,288.9 L548.2,288.7 L549.3,288.8 L550.4,288.6 L551.5,288.5 L552.6,288.6 L553.7,288.6 L554.8,288.7 L555.9,289.1 L557.0,288.5 L558.1,288.4 L559.2,288.8 L560.3,288.6 L561.4,288.2 L562.5,287.8 L563.6,287.7 L564.7,288.1 L565.8,288.4 L566.9,287.9 L568.0,287.6 L569.1,287.6 L570.2,287.6 L571.3,287.9 L572.4,288.1 L573.5,288.2 L574.6,287.8 L575.7,287.6 L576.8,287.4 L577.9,287.3 L579.0,287.2 L580.1,287.1 L581.2,287.4 L582.3,287.6 L583.4,287.6 L584.5,286.9 L585.6,286.8 L586.7,286.9 L587.8,286.9 L588.9,286.6 L590.0,286.6 L591.1,286.9 L592.2,287.4 L593.3,287.2 L594.4,286.4 L595.5,286.3 L596.6,286.5 L597.7,286.9 L598.8,286.4 L599.9,286.4 L601.0,286.7 L602.1,286.6 L603.2,286.4 L604.3,286.2 L605.4,285.8 L606.5,285.7 L607.6,285.6 L608.7,285.1 L609.8,285.8 L610.9,286.2 L612.0,286.0 L613.1,285.4 L614.2,285.3 L615.3,285.5 L616.4,285.5 L617.5,285.5 L618.6,285.6 L619.7,285.4 L620.8,285.5 L621.9,285.6 L623.0,285.3 L624.1,284.6 L625.2,284.2 L626.3,284.7 L627.4,284.8 L628.5,284.9 L629.6,285.1 L630.7,284.7 L631.8,284.3 L632.9,284.1 L634.0,284.1 L635.1,284.3 L636.2,284.4 L637.3,283.9 L638.4,283.9 L639.5,283.9 L640.6,283.7 L641.7,283.8 L642.8,284.0 L643.9,284.2" stroke="#a0359e" />
<path d="M143.0,326.0 L144.3,327.4 L145.7,321.1 L147.0,317.4 L149.4,323.4 L152.0,320.0 L153.3,321.7 L154.7,325.4 L156.1,324.0 L157.4,323.4 L160.0,323.4 L162.1,323.4 L164.1,326.8 L166.4,323.5 L168.8,322.7 L170.8,320.6 L172.8,319.4 L174.2,321.8 L175.5,323.4 L176.8,322.6 L178.2,321.4 L180.0,325.0 L181.0,317.8 L182.9,317.0 L184.8,317.3 L189.6,320.7 L194.4,315.9 L200.1,320.2 L205.0,318.6 L206.1,319.0 L207.2,319.3 L208.3,318.4 L209.4,317.6 L210.5,316.6 L211.6,315.7 L212.7,315.0 L213.8,314.3 L214.9,314.0 L216.0,313.6 L217.1,314.2 L218.2,314.9 L219.3,314.3 L220.4,313.7 L221.5,313.6 L222.6,313.6 L223.7,313.6 L224.8,313.6 L225.9,312.9 L227.0,312.2 L228.1,312.6 L229.2,313.1 L230.3,311.8 L231.4,310.5 L232.5,310.6 L233.6,310.7 L234.7,310.2 L235.8,309.6 L236.9,310.2 L238.0,310.7 L239.1,310.7 L240.2,310.7 L241.3,310.0 L242.4,309.4 L243.5,309.0 L244.6,308.6 L245.7,309.0 L246.8,309.5 L247.9,309.0 L249.0,308.5 L250.1,308.4 L251.2,308.4 L252.3,308.5 L253.4,308.7 L254.5,309.4 L255.6,310.1 L256.7,309.1 L257.8,308.2 L258.9,308.6 L260.0,308.9 L261.1,308.4 L262.2,307.8 L263.3,307.8 L264.4,307.7 L265.5,307.3 L266.6,306.9 L267.7,306.9 L268.8,307.0 L269.9,307.7 L271.0,308.5 L272.1,307.9 L273.2,307.3 L274.3,307.0 L275.4,306.6 L276.5,307.5 L277.6,308.3 L278.7,308.0 L279.8,307.7 L280.9,306.7 L282.0,305.7 L283.1,305.8 L284.2,305.9 L285.3,305.9 L286.4,305.9 L287.5,305.2 L288.6,304.5 L289.7,304.7 L290.8,305.0 L291.9,304.6 L293.0,304.3 L294.1,304.9 L295.2,305.5 L296.3,304.4 L297.4,303.3 L298.5,304.8 L299.6,306.2 L300.7,303.5 L301.8,303.9 L302.9,303.6 L304.0,303.9 L305.1,304.3 L306.2,304.1 L307.3,303.6 L308.4,303.3 L309.5,303.6 L310.6,303.5 L311.7,303.5 L312.8,303.6 L313.9,302.9 L315.0,303.1 L316.1,304.0 L317.2,303.4 L318.3,303.2 L319.4,303.2 L320.5,303.3 L321.6,303.2 L322.7,303.1 L323.8,303.4 L324.9,303.5 L326.0,303.6 L327.1,303.6 L328.2,303.7 L329.3,303.5 L330.4,303.1 L331.5,303.1 L332.6,303.5 L333.7,304.1 L334.8,303.5 L335.9,303.4 L337.0,303.4 L338.1,303.3 L339.2,303.4 L340.3,303.7 L341.4,303.9 L342.5,303.5 L343.6,303.1 L344.7,303.0 L345.8,303.0 L346.9,302.8 L348.0,302.5 L349.1,302.0 L350.2,301.9 L351.3,302.0 L352.4,302.4 L353.5,302.8 L354.6,303.1 L355.7,302.4 L356.8,302.4 L357.9,302.5 L359.0,302.2 L360.1,302.0 L361.2,302.1 L362.3,302.6 L363.4,302.2 L364.5,301.9 L365.6,301.8 L366.7,302.3 L367.8,302.3 L368.9,301.9 L370.0,301.8 L371.1,302.1 L372.2,302.4 L373.3,301.8 L374.4,302.0 L375.5,302.2 L376.6,301.8 L377.7,301.8 L378.8,301.8 L379.9,301.6 L381.0,301.6 L382.1,301.7 L383.2,302.1 L384.3,302.1 L385.4,301.7 L386.5,301.2 L387.6,301.6 L388.7,301.4 L389.8,301.0 L390.9,301.0 L392.0,300.9 L393.1,300.8 L394.2,301.2 L395.3,301.3 L396.4,301.3 L397.5,301.2 L398.6,301.2 L399.7,301.0 L400.8,300.7 L401.9,300.4 L403.0,300.2 L404.1,300.1 L405.2,300.4 L406.3,300.7 L407.4,300.9 L408.5,300.5 L409.6,300.4 L410.7,300.5 L411.8,300.7 L412.9,300.6 L414.0,300.5 L415.1,300.4 L416.2,300.2 L417.3,300.0 L418.4,299.6 L419.5,300.0 L420.6,300.0 L421.7,299.7 L422.8,299.9 L423.9,299.7 L425.0,299.4 L426.1,299.9 L427.2,299.5 L428.3,299.2 L429.4,299.9 L430.5,299.8 L431.6,299.5 L432.7,298.8 L433.8,299.2 L434.9,299.4 L436.0,299.1 L437.1,299.0 L438.2,298.8 L439.3,298.5 L440.4,298.5 L441.5,298.4 L442.6,298.3 L443.7,298.4 L444.8,298.5 L445.9,298.6 L447.0,298.6 L448.1,298.5 L449.2,298.3 L450.3,298.0 L451.4,297.9 L452.5,298.0 L453.6,298.2 L454.7,298.3 L455.8,298.0 L456.9,297.4 L458.0,297.5 L459.1,297.4 L460.2,297.4 L461.3,297.8 L462.4,297.4 L463.5,297.0 L464.6,297.6 L465.7,297.6 L466.8,297.3 L467.9,296.9 L469.0,297.1 L470.1,297.1 L471.2,296.8 L472.3,297.0 L473.4,296.9 L474.5,296.7 L475.6,297.1 L476.7,296.9 L477.8,296.7 L478.9,296.9 L480.0,296.8 L481.1,296.6 L482.2,296.4 L483.3,296.6 L484.4,296.7 L485.5,296.0 L486.6,296.4 L487.7,296.7 L488.8,296.7 L489.9,296.6 L491.0,296.4 L492.1,296.2 L493.2,296.2 L494.3,296.3 L495.4,296.4 L496.5,295.9 L497.6,296.0 L498.7,296.2 L499.8,296.1 L500.9,296.1 L502.0,296.0 L503.1,295.6 L504.2,295.7 L505.3,295.6 L506.4,295.1 L507.5,295.1 L508.6,295.2 L509.7,295.5 L510.8,295.6 L511.9,295.5 L513.0,295.3 L514.1,295.6 L515.2,295.3 L516.3,294.8 L517.4,294.8 L518.5,295.2 L519.6,295.4 L520.7,295.0 L521.8,294.8 L522.9,294.9 L524.0,295.3 L525.1,294.8 L526.2,294.9 L527.3,295.3 L528.4,294.8 L529.5,294.8 L530.6,295.0 L531.7,294.4 L532.8,294.7 L533.9,295.0 L535.0,294.5 L536.1,294.7 L537.2,294.8 L538.3,294.3 L539.4,294.3 L540.5,294.4 L541.6,294.5 L542.7,294.4 L543.8,294.4 L544.9,294.4 L546.0,294.4 L547.1,294.1 L548.2,293.8 L549.3,293.5 L550.4,293.8 L551.5,294.2 L552.6,294.0 L553.7,293.7 L554.8,293.6 L555.9,293.7 L557.0,294.0 L558.1,293.9 L559.2,293.4 L560.3,293.8 L561.4,293.7 L562.5,293.1 L563.6,293.2 L564.7,293.5 L565.8,293.7 L566.9,293.0 L568.0,293.2 L569.1,293.4 L570.2,292.9 L571.3,292.7 L572.4,292.5 L573.5,292.5 L574.6,292.9 L575.7,292.9 L576.8,292.6 L577.9,293.0 L579.0,292.8 L580.1,292.1 L581.2,292.3 L582.3,292.3 L583.4,292.3 L584.5,292.3 L585.6,292.2 L586.7,292.1 L587.8,291.8 L588.9,291.8 L590.0,291.9 L591.1,291.9 L592.2,292.1 L593.3,292.1 L594.4,291.8 L595.5,292.0 L596.6,292.0 L597.7,291.7 L598.8,291.6 L599.9,291.4 L601.0,291.3 L602.1,291.3 L603.2,291.4 L604.3,291.5 L605.4,291.4 L606.5,291.2 L607.6,291.1 L608.7,291.0 L609.8,291.7 L610.9,291.9 L612.0,291.3 L613.1,291.3 L614.2,291.1 L615.3,290.9 L616.4,290.7 L617.5,290.8 L618.6,290.9 L619.7,290.4 L620.8,290.5 L621.9,290.6 L623.0,290.0 L624.1,290.3 L625.2,290.5 L626.3,290.1 L627.4,290.1 L628.5,290.2 L629.6,290.4 L630.7,290.5 L631.8,290.3 L632.9,289.8 L634.0,289.6 L635.1,289.5 L636.2,289.5 L637.3,289.8 L638.4,290.0 L639.5,289.9 L640.6,289.2 L641.7,289.2 L642.8,289.3 L643.9,289.4" stroke="#7b7a1c" />
</g>
<g stroke="#231815" stroke-width="1.8"><line x1="174.6" y1="324" x2="174.6" y2="336" /><line x1="252.9" y1="324" x2="252.9" y2="336" /><line x1="331.2" y1="324" x2="331.2" y2="336" /><line x1="409.5" y1="324" x2="409.5" y2="336" /><line x1="487.7" y1="324" x2="487.7" y2="336" /><line x1="566.0" y1="324" x2="566.0" y2="336" /></g>
<rect x="143" y="4" width="501" height="332" fill="none" stroke="#231815" stroke-width="2"/>
<g font-size="30"><text transform="translate(174.8,370) scale(0.92,1)" text-anchor="middle">400</text><text transform="translate(253.3,370) scale(0.92,1)" text-anchor="middle">450</text><text transform="translate(331.6,370) scale(0.92,1)" text-anchor="middle">500</text><text transform="translate(410.2,370) scale(0.92,1)" text-anchor="middle">550</text><text transform="translate(488.1,370) scale(0.92,1)" text-anchor="middle">600</text><text transform="translate(566.4,370) scale(0.92,1)" text-anchor="middle">650</text><text transform="translate(645.5,370) scale(0.92,1)" text-anchor="middle">700</text></g>
<g font-size="30">
<text transform="translate(569.0,69.1) scale(0.92,1)">CN</text>
<text transform="translate(501.0,165.8) scale(0.92,1)">0.1%C-CN</text>
<text transform="translate(517.6,244.2) scale(0.92,1)">1%C-CN</text>
<text transform="translate(517.0,283.5) scale(0.92,1)">3%C-CN</text>
<text transform="translate(476.6,317.6) scale(0.92,1)">5%C-CN</text>
<text transform="translate(616.4,322.1) scale(0.92,1)">C</text>
</g>
<text transform="translate(360.8,410.8) scale(0.95,1)" font-size="28"><tspan font-style="italic">λ</tspan>/nm</text>
</svg>
</body></html>
